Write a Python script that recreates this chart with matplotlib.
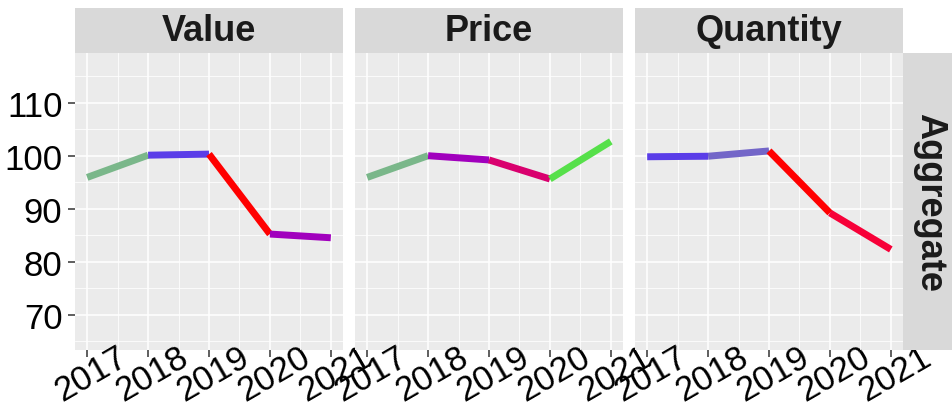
import matplotlib
matplotlib.use("Agg")
import matplotlib.pyplot as plt
import matplotlib.transforms as mtransforms

plt.rcParams['font.family'] = ['Liberation Sans', 'DejaVu Sans']

years = [2017, 2018, 2019, 2020, 2021]
panels = ["Value", "Price", "Quantity"]
value = [95.9, 100.1, 100.3, 85.2, 84.5]
price = [95.9, 100.0, 99.2, 95.6, 102.7]
quantity = [99.8, 99.9, 100.9, 89.2, 82.3]
value_colors = ["#7AB78A", "#5A3DE8", "#FF0000", "#A100BD"]
price_colors = ["#7AB78A", "#A100BD", "#D9006E", "#56E04A"]
quantity_colors = ["#5A3DE8", "#7366C8", "#FF0000", "#F70038"]
row_label = "Aggregate"

series = [value, price, quantity]
colors = [value_colors, price_colors, quantity_colors]

W, H = 953, 410
fig = plt.figure(figsize=(W / 100, H / 100), dpi=100)


def px_axes(x0, y0, x1, y1):
    # pixel box (top-left origin) -> figure axes
    return fig.add_axes([x0 / W, 1 - y1 / H, (x1 - x0) / W, (y1 - y0) / H])


panel_x = [(75, 343), (355, 623), (635, 903)]
top, bottom, strip_top = 54, 351, 9

for i, (x0, x1) in enumerate(panel_x):
    ax = px_axes(x0, top, x1, bottom)
    ax.set_facecolor("#EBEBEB")
    for s in ax.spines.values():
        s.set_visible(False)
    ax.set_xticks(years)
    ax.set_xticks([2017.5, 2018.5, 2019.5, 2020.5], minor=True)
    ax.set_yticks([70, 80, 90, 100, 110])
    ax.set_yticks([65, 75, 85, 95, 105, 115], minor=True)
    ax.set_xlim(2016.8, 2021.2)
    ax.set_ylim(63.3, 119.4)
    ax.grid(which="major", color="white", lw=1.1)
    ax.grid(which="minor", color="white", lw=0.55)
    ax.set_axisbelow(True)
    ax.tick_params(which="minor", length=0)
    ax.tick_params(which="major", length=5, width=1.1, color="#333333",
                   labelsize=25, labelcolor="black")
    ax.tick_params(axis="x", pad=12)
    ax.tick_params(axis="y", pad=4)
    labels = ax.set_xticklabels([str(y) for y in years], rotation=30,
                                ha="center", va="center",
                                rotation_mode="anchor")
    off = mtransforms.ScaledTranslation(4 / 100, 0, fig.dpi_scale_trans)
    for lab in labels:
        lab.set_transform(lab.get_transform() + off)
    if i > 0:
        ax.set_yticklabels([])
        ax.tick_params(axis="y", length=0)

    ys = series[i]
    for k in range(len(years) - 1):
        ax.plot(years[k:k + 2], ys[k:k + 2], color=colors[i][k], lw=5,
                solid_capstyle="butt", zorder=3)

    sax = px_axes(x0, strip_top, x1, top)
    sax.set_facecolor("#D9D9D9")
    sax.set_xticks([])
    sax.set_yticks([])
    for s in sax.spines.values():
        s.set_visible(False)
    sax.text(0.5, 0.5, panels[i], ha="center", va="center", fontsize=26,
             fontweight="bold", color="#1A1A1A", transform=sax.transAxes)

rax = px_axes(903, top, 952, bottom)
rax.set_facecolor("#D9D9D9")
rax.set_xticks([])
rax.set_yticks([])
for s in rax.spines.values():
    s.set_visible(False)
rax.text(0.55, 0.5, row_label, ha="center", va="center", rotation=-90,
         fontsize=26, fontweight="bold", color="#1A1A1A",
         transform=rax.transAxes)

fig.savefig("out.png", dpi=100)
